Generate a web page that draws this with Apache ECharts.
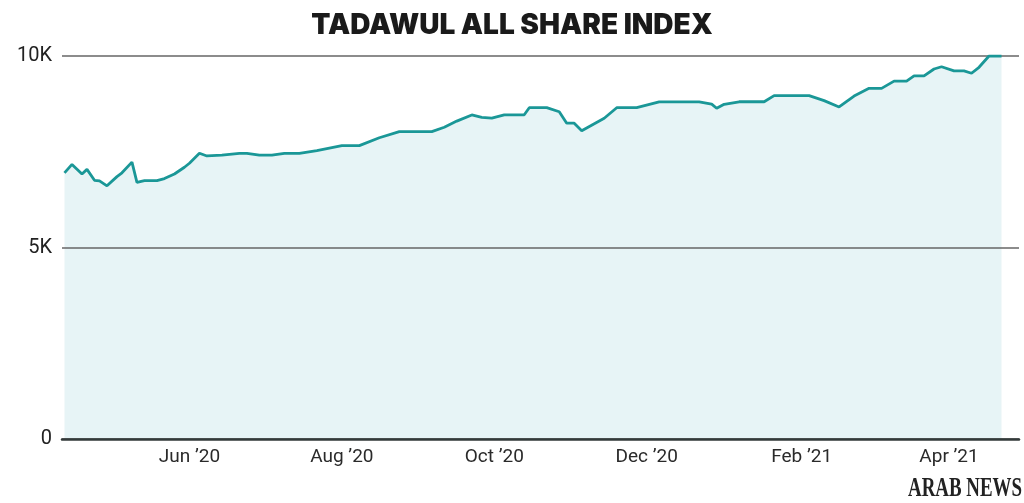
<!DOCTYPE html>
<html>
<head>
<meta charset="utf-8">
<title>Tadawul All Share Index</title>
<script src="https://cdn.jsdelivr.net/npm/echarts@6/dist/echarts.min.js"></script>
<style>
  html, body { margin: 0; padding: 0; background: #fff; }
  #chart { width: 1024px; height: 503px; }
</style>
</head>
<body>
<div id="chart"></div>
<script>
// index close
var dates = [
  '2020-04-12', '2020-04-15', '2020-04-19', '2020-04-21', '2020-04-24', '2020-04-26', '2020-04-29',
  '2020-05-03', '2020-05-05', '2020-05-09', '2020-05-11', '2020-05-14', '2020-05-19', '2020-05-22',
  '2020-05-26', '2020-05-30', '2020-06-01', '2020-06-05', '2020-06-08', '2020-06-14', '2020-06-21',
  '2020-06-24', '2020-06-29', '2020-07-04', '2020-07-09', '2020-07-15', '2020-07-22', '2020-08-01',
  '2020-08-08', '2020-08-16', '2020-08-24', '2020-09-06', '2020-09-11', '2020-09-16', '2020-09-22',
  '2020-09-26', '2020-09-30', '2020-10-05', '2020-10-13', '2020-10-15', '2020-10-22', '2020-10-27',
  '2020-10-30', '2020-11-02', '2020-11-05', '2020-11-14', '2020-11-19', '2020-11-27', '2020-12-06',
  '2020-12-22', '2020-12-27', '2020-12-29', '2021-01-01', '2021-01-07', '2021-01-17', '2021-01-21',
  '2021-02-04', '2021-02-10', '2021-02-16', '2021-02-22', '2021-02-28', '2021-03-05', '2021-03-10',
  '2021-03-15', '2021-03-18', '2021-03-22', '2021-03-26', '2021-03-29', '2021-04-03', '2021-04-07',
  '2021-04-10', '2021-04-13', '2021-04-17', '2021-04-22'
];
var closes = [
  6950, 7170, 6920, 7040, 6755, 6740, 6610,
  6850, 6950, 7230, 6700, 6745, 6745, 6800,
  6920, 7095, 7200, 7460, 7390, 7410, 7460,
  7460, 7410, 7410, 7460, 7460, 7530, 7660,
  7660, 7865, 8025, 8025, 8140, 8300, 8460,
  8400, 8380, 8465, 8465, 8650, 8650, 8545,
  8245, 8245, 8050, 8375, 8650, 8650, 8800,
  8800, 8745, 8635, 8740, 8805, 8805, 8965,
  8965, 8835, 8670, 8955, 9155, 9155, 9345,
  9345, 9480, 9480, 9660, 9720, 9610, 9610,
  9550, 9705, 10000, 10000
];

// x axis
var axisStart = '2020-04-11';
var axisEnd = '2021-04-29';
var tickDates = ['2020-06-01', '2020-08-01', '2020-10-01', '2020-12-01', '2021-02-01', '2021-04-01'];
var tickLabels = ['Jun \u201920', 'Aug \u201920', 'Oct \u201920', 'Dec \u201920', 'Feb \u201921', 'Apr \u201921'];

// y axis
var yTicks = [0, 5000, 10000];
var yTickLabels = ['0', '5K', '10K'];

function ts(s) {
  var p = s.split('-');
  return new Date(+p[0], +p[1] - 1, +p[2]).getTime();
}

var tickTimes = tickDates.map(ts);
var seriesData = dates.map(function (d, i) { return [ts(d), closes[i]]; });

var myChart = echarts.init(document.getElementById('chart'));
var option = {
  backgroundColor: '#ffffff',
  animation: false,
  title: {
    text: 'TADAWUL ALL SHARE INDEX',
    left: 'center',
    top: 7,
    textStyle: {
      fontFamily: 'Inter',
      fontWeight: 900,
      fontSize: 28,
      color: '#1a1a1a'
    }
  },
  // logo, bottom right (narrowed serif)
  graphic: [{
    type: 'text',
    x: 1022,
    y: 503,
    scaleX: 0.7,
    z: 10,
    style: {
      text: 'ARAB NEWS',
      align: 'right',
      verticalAlign: 'bottom',
      font: 'bold 27px "Liberation Serif"',
      fill: '#222'
    }
  }],
  grid: {
    left: 62,
    right: 5,
    top: 56,
    bottom: 64,
    containLabel: false
  },
  xAxis: {
    type: 'value',
    min: ts(axisStart),
    max: ts(axisEnd),
    z: 4,
    axisLine: {
      show: true,
      onZero: false,
      lineStyle: { color: '#333a3a', width: 2.5 }
    },
    axisTick: { show: false },
    splitLine: { show: false },
    axisLabel: {
      customValues: tickTimes,
      margin: 9,
      fontFamily: 'Roboto',
      fontSize: 19,
      color: '#2a2a2a',
      formatter: function (val) {
        var i = tickTimes.indexOf(val);
        return i >= 0 ? tickLabels[i] : '';
      }
    }
  },
  yAxis: {
    type: 'value',
    min: 0,
    max: 10000,
    interval: 5000,
    z: 3,
    axisLine: { show: false },
    axisTick: { show: false },
    splitLine: {
      show: true,
      lineStyle: { color: '#666', width: 1.5 }
    },
    axisLabel: {
      margin: 10,
      fontFamily: 'Roboto',
      fontSize: 20,
      color: '#222',
      formatter: function (val) {
        var i = yTicks.indexOf(val);
        return i >= 0 ? yTickLabels[i] : '';
      }
    }
  },
  series: [{
    // fill under the line, kept below the grid lines
    name: 'TASI area',
    type: 'line',
    data: seriesData,
    symbol: 'none',
    lineStyle: { width: 0, opacity: 0 },
    areaStyle: { color: '#e7f4f6', opacity: 1 },
    silent: true,
    z: 1
  }, {
    name: 'TASI',
    type: 'line',
    data: seriesData,
    symbol: 'none',
    lineStyle: { color: '#1a9797', width: 2.8 },
    z: 6
  }]
};
myChart.setOption(option);
</script>
</body>
</html>
